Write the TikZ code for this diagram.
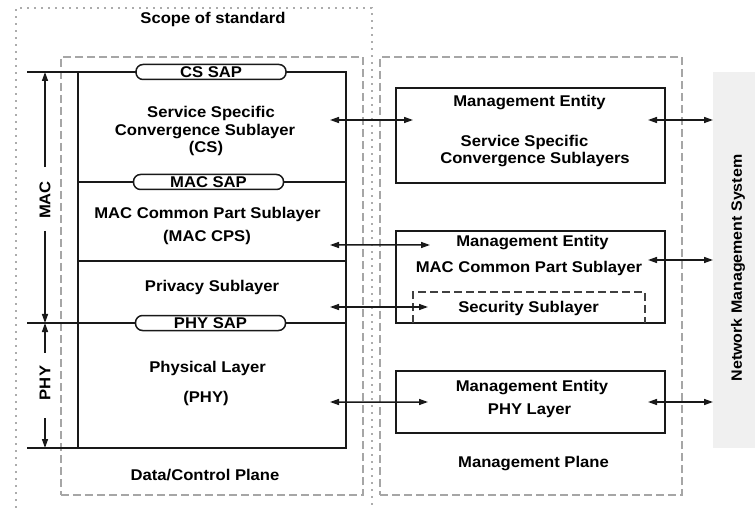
\documentclass[tikz,border=0pt]{standalone}
\usepackage{fontspec}
\setmainfont{Liberation Sans}[FakeStretch=1.07]
\usetikzlibrary{arrows.meta}
\begin{document}
\begin{tikzpicture}[x=1bp,y=-1bp,
  every node/.style={inner sep=0pt, outer sep=0pt},
  lbl/.style={font=\bfseries\fontsize{15.6}{18}\selectfont, anchor=base},
  layer/.style={draw=black!90, line width=1.8bp, minimum width=268bp},
  mebox/.style={draw=black!90, line width=1.8bp, minimum width=269bp},
  sap/.style={draw=black!90, line width=1.5bp, fill=white, rounded corners=7bp,
    minimum width=150bp, minimum height=15bp, font=\bfseries\fontsize{15.6}{15}\selectfont},
  dotbox/.style={draw=gray!65, line width=2bp, dash pattern=on 2bp off 5bp},
  dashbox/.style={draw=gray!70, line width=1.2bp, dash pattern=on 8bp off 4bp},
  secbox/.style={draw=black!75, line width=1.3bp, dash pattern=on 8bp off 4bp},
  biarrow/.style={draw=black!90, line width=1.5bp, {Triangle[length=9bp,width=6bp]}-{Triangle[length=9bp,width=6bp]}},
  dimarrow/.style={draw=black!90, line width=1.5bp, -{Triangle[length=9bp,width=6bp]}},
  ext/.style={draw=black!90, line width=1.8bp},
]
\useasboundingbox (0,0) rectangle (755,508);
\fill[white] (0,0) rectangle (755,508);

% scope of standard (dotted, open at the bottom)
\draw[dotbox] (16,508) -- (16,8) -- (372,8) -- (372,508);
\node[lbl] (scope) at (213,24) {Scope of standard};

% planes
\node[dashbox, minimum width=302bp, minimum height=438bp] (dcp) at (212,276) {};
\node[dashbox, minimum width=302bp, minimum height=438bp] (mp) at (531,276) {};

% NMS
\node[fill=black!6, minimum width=42bp, minimum height=376bp] (nms) at (734,260) {};
\node[font=\bfseries\fontsize{15}{18}\selectfont, rotate=90] (nmstxt) at (738,268) {Network Management System};

% layer stack
\node[layer, minimum height=110bp] (cs) at (212,127) {};
\node[layer, minimum height=79bp] (cps) at (212,221.5) {};
\node[layer, minimum height=62bp] (priv) at (212,292) {};
\node[layer, minimum height=125bp] (phy) at (212,385.5) {};
\draw[ext] (cs.north west) -- ++(-51,0);
\draw[ext] (phy.north west) -- ++(-51,0);
\draw[ext] (phy.south west) -- ++(-51,0);

\node[sap] (cssap) at (211,72) {CS SAP};
\node[sap] (macsap) at (208.5,182) {MAC SAP};
\node[sap] (physap) at (210.5,323) {PHY SAP};

\node[lbl] (cs1) at (211,118) {Service Specific};
\node[lbl] (cs2) at (205,136) {Convergence Sublayer};
\node[lbl] (cs3) at (206,153) {(CS)};
\node[lbl] (cps1) at (207.5,219) {MAC Common Part Sublayer};
\node[lbl] (cps2) at (207,242) {(MAC CPS)};
\node[lbl] (priv1) at (212,292) {Privacy Sublayer};
\node[lbl] (phy1) at (207.5,372) {Physical Layer};
\node[lbl] (phy2) at (206,402) {(PHY)};
\node[lbl] (dcptxt) at (205,480) {Data/Control Plane};

% MAC / PHY extents
\node[lbl, anchor=center, rotate=90] (maclbl) at (45,200) {MAC};
\node[lbl, anchor=center, rotate=90] (phylbl) at (45,383) {PHY};
\draw[dimarrow] ([shift={(0,-14)}]maclbl.east) -- (cs.north west -| maclbl);
\draw[dimarrow] ([shift={(0,12)}]maclbl.west) -- (phy.north west -| maclbl);
\draw[dimarrow] ([shift={(0,-13)}]phylbl.east) -- (phy.north west -| phylbl);
\draw[dimarrow] ([shift={(0,18)}]phylbl.west) -- (phy.south west -| phylbl);

% management entities
\node[mebox, minimum height=95bp] (me1) at (530.5,135.5) {};
\node[mebox, minimum height=92bp] (me2) at (530.5,277) {};
\node[mebox, minimum height=62bp] (me3) at (530.5,402) {};
\node[minimum width=232bp, minimum height=31bp] (sec) at (529,307.5) {};
\draw[secbox] (sec.south west) -- (sec.north west) -- (sec.north east) -- (sec.south east);

\node[lbl] (me1a) at (529.5,107) {Management Entity};
\node[lbl] (me1b) at (524.5,147) {Service Specific};
\node[lbl] (me1c) at (535,164) {Convergence Sublayers};
\node[lbl] (me2a) at (532.5,247) {Management Entity};
\node[lbl] (me2b) at (529,273) {MAC Common Part Sublayer};
\node[lbl] (sectxt) at (528.5,312) {Security Sublayer};
\node[lbl] (me3a) at (532,391) {Management Entity};
\node[lbl] (me3b) at (529.5,414) {PHY Layer};
\node[lbl] (mptxt) at (533.5,467) {Management Plane};

% connectors
\draw[biarrow] ([shift={(-16,-7)}]cs.east) -- ([shift={(17,-15.5)}]me1.west);
\draw[biarrow] ([shift={(-16,23.5)}]cps.east) -- ([shift={(34,-32)}]me2.west);
\draw[biarrow] ([shift={(-16,15)}]priv.east) -- ([shift={(15,-0.5)}]sec.west);
\draw[biarrow] ([shift={(-16,16.5)}]phy.east) -- ([shift={(32,0)}]me3.west);
\draw[biarrow] ([shift={(-17,-15.5)}]me1.east) -- ([shift={(0,-140)}]nms.west);
\draw[biarrow] ([shift={(-17,-17)}]me2.east) -- (nms.west);
\draw[biarrow] ([shift={(-17,0)}]me3.east) -- ([shift={(0,142)}]nms.west);
\end{tikzpicture}
\end{document}
